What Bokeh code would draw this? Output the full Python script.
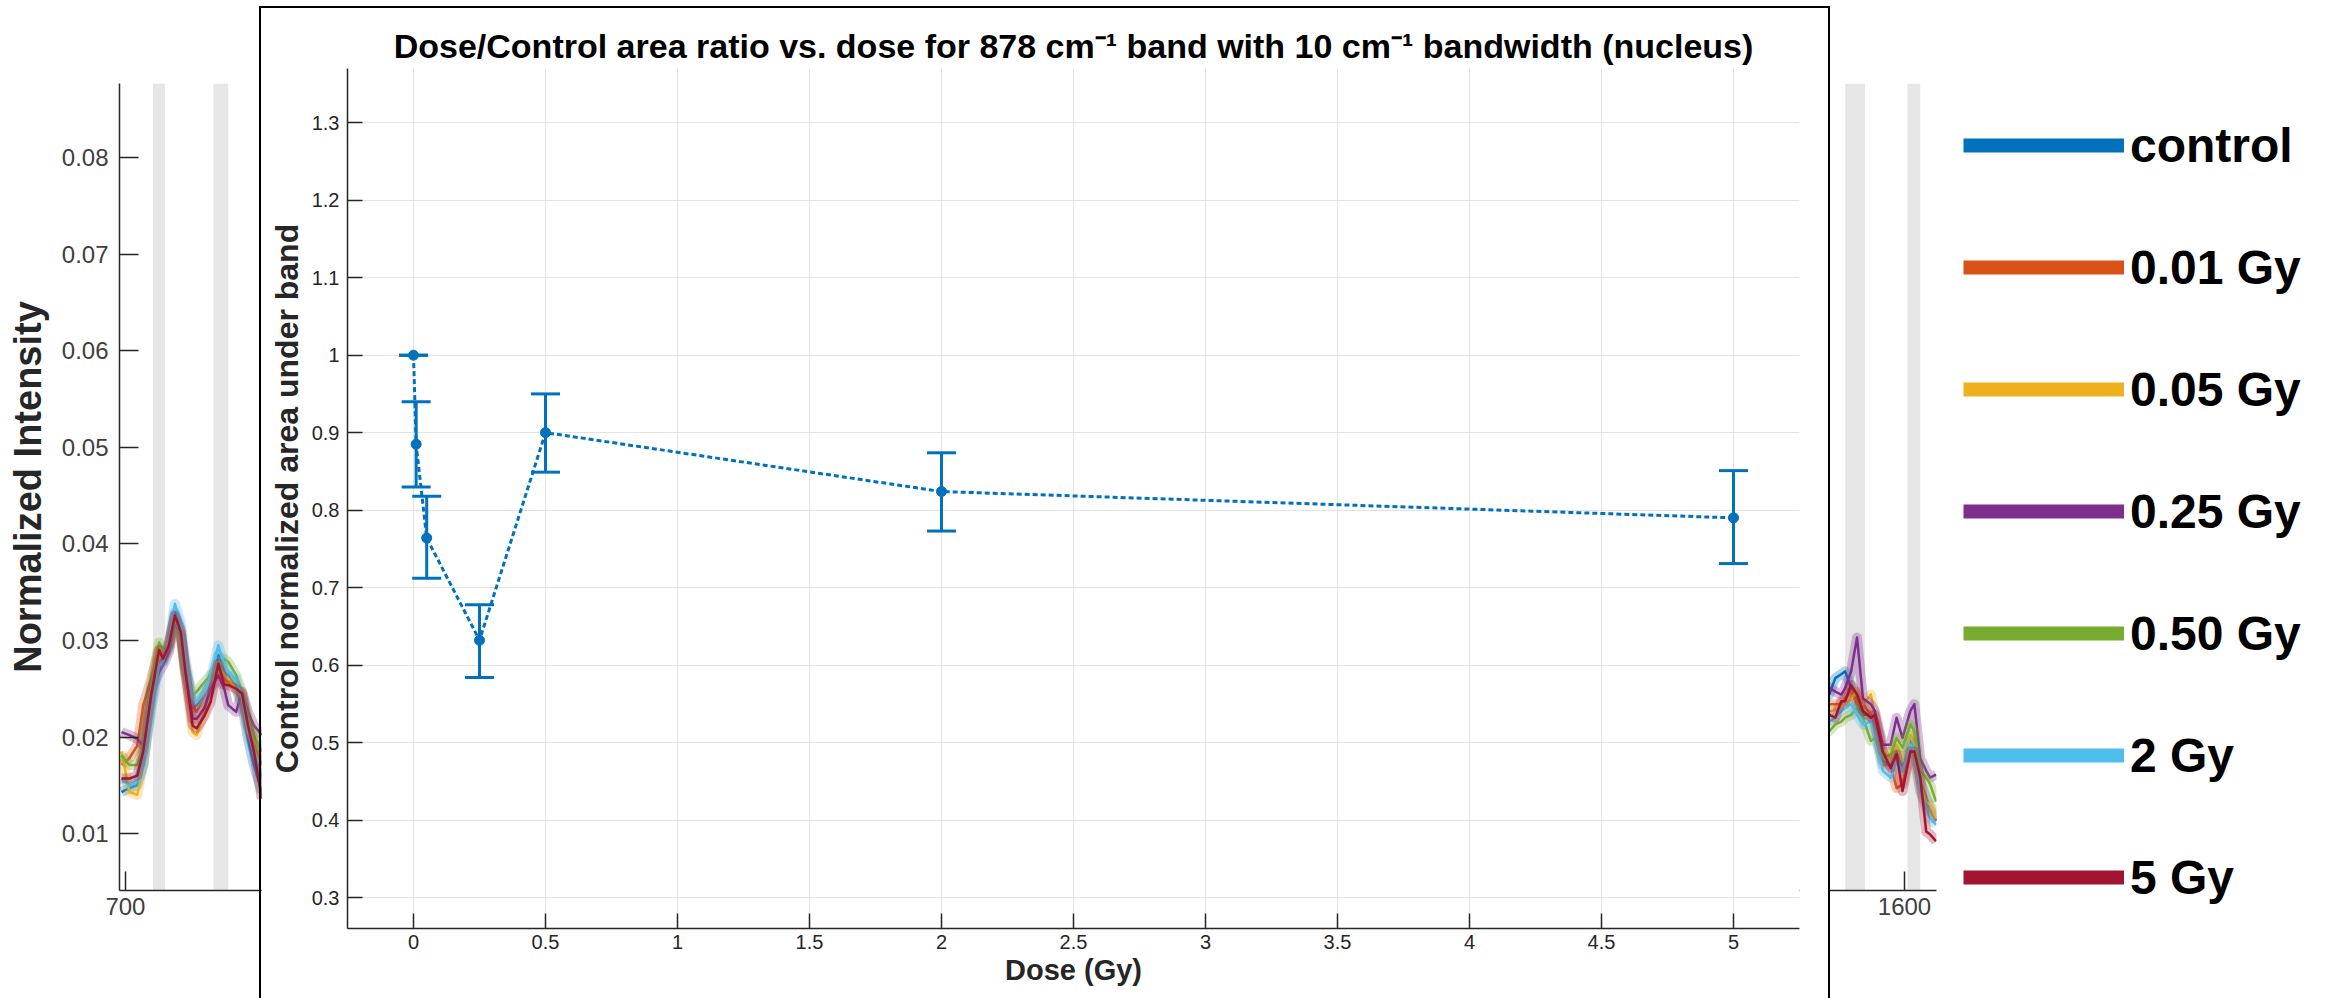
from bokeh.plotting import figure
from bokeh.models import (Range1d, FixedTicker, ColumnDataSource, Whisker, TeeHead,
                          Legend, LegendItem, BoxAnnotation)
from bokeh.layouts import column
from bokeh.embed import file_html
from bokeh.resources import INLINE

FONT = "Liberation Sans"

# ---------------- background spectra (partly hidden behind the inset) ----------------
SERIES = ["control", "0.01 Gy", "0.05 Gy", "0.25 Gy", "0.50 Gy", "2 Gy", "5 Gy"]
COLORS = ["#0072BD", "#D95319", "#EDB120", "#7E2F8E", "#77AC30", "#4DBEEE", "#A2142F"]

WN_L = [698, 702, 706, 709, 713, 717, 719, 722, 725, 728, 730, 734, 736, 740, 743,
        747, 750, 752, 756, 759, 762, 765, 769]
CONTROL_L = [0.0143, 0.0147, 0.0150, 0.0171, 0.0233, 0.0281, 0.0278, 0.0295, 0.0329, 0.0312, 0.0278, 0.0230,
             0.0233, 0.0243, 0.0254, 0.0285, 0.0267, 0.0264, 0.0250, 0.0233, 0.0198, 0.0171, 0.0143]
GY001_L = [0.0171, 0.0178, 0.0191, 0.0233, 0.0260, 0.0291, 0.0285, 0.0298, 0.0326, 0.0309, 0.0278, 0.0233,
           0.0226, 0.0243, 0.0257, 0.0278, 0.0260, 0.0257, 0.0254, 0.0240, 0.0212, 0.0195, 0.0171]
GY005_L = [0.0185, 0.0143, 0.0140, 0.0171, 0.0240, 0.0285, 0.0281, 0.0291, 0.0322, 0.0302, 0.0267, 0.0205,
           0.0202, 0.0226, 0.0250, 0.0274, 0.0264, 0.0260, 0.0250, 0.0240, 0.0212, 0.0198, 0.0178]
GY025_L = [0.0205, 0.0202, 0.0198, 0.0191, 0.0250, 0.0267, 0.0274, 0.0288, 0.0319, 0.0305, 0.0271, 0.0219,
           0.0219, 0.0230, 0.0250, 0.0264, 0.0250, 0.0233, 0.0226, 0.0247, 0.0226, 0.0212, 0.0202]
GY050_L = [0.0181, 0.0171, 0.0171, 0.0191, 0.0254, 0.0298, 0.0291, 0.0295, 0.0322, 0.0305, 0.0271, 0.0243,
           0.0247, 0.0257, 0.0264, 0.0271, 0.0281, 0.0278, 0.0264, 0.0247, 0.0219, 0.0202, 0.0185]
GY2_L = [0.0157, 0.0150, 0.0154, 0.0171, 0.0226, 0.0274, 0.0278, 0.0298, 0.0338, 0.0319, 0.0285, 0.0240,
         0.0236, 0.0247, 0.0260, 0.0295, 0.0274, 0.0267, 0.0260, 0.0240, 0.0205, 0.0185, 0.0157]
GY5_L = [0.0157, 0.0157, 0.0160, 0.0185, 0.0243, 0.0290, 0.0281, 0.0295, 0.0326, 0.0309, 0.0274, 0.0212,
         0.0209, 0.0222, 0.0236, 0.0276, 0.0254, 0.0254, 0.0250, 0.0245, 0.0212, 0.0185, 0.0136]

WN_R = [1556, 1562, 1565, 1568, 1570, 1573, 1576, 1579, 1583, 1585, 1589, 1593, 1596, 1599, 1603,
        1605, 1608, 1611, 1613, 1616]
CONTROL_R = [0.0247, 0.0244, 0.0261, 0.0265, 0.0268, 0.0251, 0.0237, 0.0223, 0.0223, 0.0213, 0.0175, 0.0171,
             0.0185, 0.0168, 0.0196, 0.0189, 0.0154, 0.0137, 0.0127, 0.0113]
GY001_R = [0.0234, 0.0234, 0.0234, 0.0234, 0.0240, 0.0247, 0.0234, 0.0234, 0.0223, 0.0216, 0.0171, 0.0171,
           0.0147, 0.0151, 0.0189, 0.0178, 0.0144, 0.0130, 0.0123, 0.0113]
GY005_R = [0.0227, 0.0227, 0.0228, 0.0230, 0.0234, 0.0240, 0.0247, 0.0234, 0.0244, 0.0223, 0.0185, 0.0178,
           0.0192, 0.0175, 0.0202, 0.0192, 0.0151, 0.0133, 0.0130, 0.0116]
GY025_R = [0.0251, 0.0251, 0.0247, 0.0244, 0.0251, 0.0268, 0.0303, 0.0240, 0.0234, 0.0227, 0.0192, 0.0192,
           0.0220, 0.0199, 0.0227, 0.0234, 0.0178, 0.0165, 0.0158, 0.0161]
GY050_R = [0.0206, 0.0206, 0.0213, 0.0216, 0.0220, 0.0223, 0.0230, 0.0220, 0.0196, 0.0199, 0.0178, 0.0182,
           0.0199, 0.0189, 0.0213, 0.0206, 0.0165, 0.0158, 0.0151, 0.0133]
GY2_R = [0.0216, 0.0216, 0.0220, 0.0227, 0.0230, 0.0234, 0.0223, 0.0213, 0.0216, 0.0206, 0.0165, 0.0158,
         0.0175, 0.0165, 0.0192, 0.0185, 0.0144, 0.0127, 0.0116, 0.0109]
GY5_R = [0.0223, 0.0223, 0.0220, 0.0237, 0.0237, 0.0254, 0.0244, 0.0227, 0.0220, 0.0223, 0.0185, 0.0168,
         0.0182, 0.0144, 0.0185, 0.0185, 0.0158, 0.0102, 0.0099, 0.0092]

LEFT_SERIES = [CONTROL_L, GY001_L, GY005_L, GY025_L, GY050_L, GY2_L, GY5_L]
RIGHT_SERIES = [CONTROL_R, GY001_R, GY005_R, GY025_R, GY050_R, GY2_R, GY5_R]

BAND_LO = [714, 744.5, 1570, 1601.5]
BAND_HI = [720, 752, 1580, 1608]

BG_XTICKS = [700, 800, 900, 1000, 1100, 1200, 1300, 1400, 1500, 1600]
BG_YTICKS = [0.01, 0.02, 0.03, 0.04, 0.05, 0.06, 0.07, 0.08]
BG_YLABELS = ["0.01", "0.02", "0.03", "0.04", "0.05", "0.06", "0.07", "0.08"]

# ---------------- inset: dose/control ratio ----------------
DOSE = [0, 0.01, 0.05, 0.25, 0.5, 2, 5]
RATIO = [1.0, 0.885, 0.764, 0.632, 0.900, 0.824, 0.790]
RATIO_UPPER = [1.0, 0.940, 0.818, 0.678, 0.950, 0.874, 0.851]
RATIO_LOWER = [1.0, 0.830, 0.712, 0.584, 0.849, 0.773, 0.731]

IN_XTICKS = [0, 0.5, 1, 1.5, 2, 2.5, 3, 3.5, 4, 4.5, 5]
IN_XLABELS = ["0", "0.5", "1", "1.5", "2", "2.5", "3", "3.5", "4", "4.5", "5"]
IN_YTICKS = [0.3, 0.4, 0.5, 0.6, 0.7, 0.8, 0.9, 1.0, 1.1, 1.2, 1.3]
IN_YLABELS = ["0.3", "0.4", "0.5", "0.6", "0.7", "0.8", "0.9", "1", "1.1", "1.2", "1.3"]

TITLE = "Dose/Control area ratio vs. dose for 878 cm\u207b\u00b9 band with 10 cm\u207b\u00b9 bandwidth (nucleus)"
AX = "#262626"
BLUE = "#0072BD"


def no_frame_align(fig):
    if "frame_align" in fig.properties():
        fig.frame_align = False


# ======================= background figure =======================
bg = figure(frame_width=1817, frame_height=807,
            min_border_left=119, min_border_right=393, min_border_top=83, min_border_bottom=108,
            x_range=Range1d(697, 1616.2), y_range=Range1d(0.0041, 0.0877),
            output_backend="svg", toolbar_location=None)
no_frame_align(bg)
bg.outline_line_color = None
bg.grid.visible = False
bg.background_fill_color = "white"
bg.border_fill_color = "white"

for lo, hi in zip(BAND_LO, BAND_HI):
    bg.add_layout(BoxAnnotation(left=lo, right=hi, fill_color="#E6E6E6", fill_alpha=1.0,
                                line_color=None, level="underlay"))

for c, yl, yr in zip(COLORS, LEFT_SERIES, RIGHT_SERIES):
    for xs, ys in ((WN_L, yl), (WN_R, yr)):
        bg.line(xs, ys, color=c, line_width=10, line_alpha=0.3, line_join="round")
        bg.line(xs, ys, color=c, line_width=2.5, line_join="round")

for ax in (bg.xaxis[0], bg.yaxis[0]):
    ax.axis_line_color = AX
    ax.axis_line_width = 1.5
    ax.major_tick_line_color = AX
    ax.major_tick_line_width = 1.5
    ax.major_tick_in = 19
    ax.major_tick_out = 0
    ax.minor_tick_line_color = None
    ax.major_label_text_font = FONT
    ax.major_label_text_font_size = "24px"
    ax.major_label_text_color = "#404040"
bg.xaxis.ticker = FixedTicker(ticks=BG_XTICKS)
bg.yaxis.ticker = FixedTicker(ticks=BG_YTICKS)
bg.yaxis.major_label_overrides = {t: l for t, l in zip(BG_YTICKS, BG_YLABELS)}
bg.xaxis.major_label_standoff = 7
bg.yaxis.major_label_standoff = 11
bg.yaxis.axis_label = "Normalized Intensity"
bg.yaxis.axis_label_text_font = FONT
bg.yaxis.axis_label_text_font_size = "38px"
bg.yaxis.axis_label_text_font_style = "bold"
bg.yaxis.axis_label_text_color = AX
bg.yaxis.axis_label_standoff = 10

# ======================= legend (own small canvas, right of the spectra) =======================
# The legend canvas shows only the legend: its ranges keep the series' own lines out of view.
leg = figure(frame_width=366, frame_height=792, min_border=0,
             x_range=Range1d(0, 1), y_range=Range1d(0, 1),
             x_axis_location=None, y_axis_location=None,
             output_backend="svg", toolbar_location=None)
no_frame_align(leg)
leg.styles = {"position": "absolute", "left": "1963px", "top": "115px"}
leg.outline_line_color = None
leg.grid.visible = False
leg.background_fill_alpha = 0
leg.border_fill_alpha = 0
items = []
for name, c, ys in zip(SERIES, COLORS, RIGHT_SERIES):
    r = leg.line(WN_R, ys, color=c, line_width=14)
    items.append(LegendItem(label=name, renderers=[r]))
legend = Legend(items=items, location="top_left", glyph_width=161, glyph_height=60,
                label_height=60, spacing=62, label_standoff=6,
                label_text_font=FONT, label_text_font_size="48px", label_text_font_style="bold",
                label_text_color="black", margin=0, padding=0,
                border_line_color=None, background_fill_alpha=0)
leg.add_layout(legend)

# ======================= inset figure =======================
ins = figure(frame_width=1452, frame_height=860,
             min_border_left=86, min_border_right=29, min_border_top=60, min_border_bottom=70,
             x_range=Range1d(-0.25, 5.25), y_range=Range1d(0.26, 1.37),
             output_backend="svg", toolbar_location=None, title=TITLE)
no_frame_align(ins)
ins.styles = {"position": "absolute", "left": "261px", "top": "8px", "outline": "2px solid black"}
ins.outline_line_color = None
ins.background_fill_color = "white"
ins.border_fill_color = "white"
ins.title.align = "center"
ins.title.text_font = FONT
ins.title.text_font_size = "34px"
ins.title.text_font_style = "bold"
ins.title.text_color = "black"
ins.title.standoff = 8

ins.grid.grid_line_color = "#e3e3e3"
ins.grid.grid_line_width = 1
ins.xaxis.ticker = FixedTicker(ticks=IN_XTICKS)
ins.yaxis.ticker = FixedTicker(ticks=IN_YTICKS)
ins.xgrid.ticker = FixedTicker(ticks=IN_XTICKS)
ins.ygrid.ticker = FixedTicker(ticks=IN_YTICKS)
ins.xaxis.major_label_overrides = {t: l for t, l in zip(IN_XTICKS, IN_XLABELS)}
ins.yaxis.major_label_overrides = {t: l for t, l in zip(IN_YTICKS, IN_YLABELS)}
for ax in (ins.xaxis[0], ins.yaxis[0]):
    ax.axis_line_color = AX
    ax.axis_line_width = 1.5
    ax.major_tick_line_color = AX
    ax.major_tick_line_width = 1.5
    ax.major_tick_in = 15
    ax.major_tick_out = 0
    ax.minor_tick_line_color = None
    ax.major_label_text_font = FONT
    ax.major_label_text_font_size = "20px"
    ax.major_label_text_color = AX
    ax.axis_label_text_font = FONT
    ax.axis_label_text_font_style = "bold"
    ax.axis_label_text_color = AX
ins.xaxis.axis_label_text_font_size = "29px"
ins.yaxis.axis_label_text_font_size = "32px"
ins.xaxis.major_label_standoff = 6
ins.yaxis.major_label_standoff = 8
ins.xaxis.axis_label = "Dose (Gy)"
ins.yaxis.axis_label = "Control normalized area under band"
ins.xaxis.axis_label_standoff = 2
ins.yaxis.axis_label_standoff = 4

src = ColumnDataSource(dict(x=DOSE, y=RATIO, upper=RATIO_UPPER, lower=RATIO_LOWER))
ins.add_layout(Whisker(base="x", upper="upper", lower="lower", source=src,
                       line_color=BLUE, line_width=3,
                       upper_head=TeeHead(size=29, line_color=BLUE, line_width=3),
                       lower_head=TeeHead(size=29, line_color=BLUE, line_width=3)))
ins.line("x", "y", source=src, color=BLUE, line_width=3, line_dash="5 3")
ins.scatter("x", "y", source=src, size=10, color=BLUE)

p = column(bg, leg, ins)
open("out.html", "w").write(file_html(p, INLINE))
